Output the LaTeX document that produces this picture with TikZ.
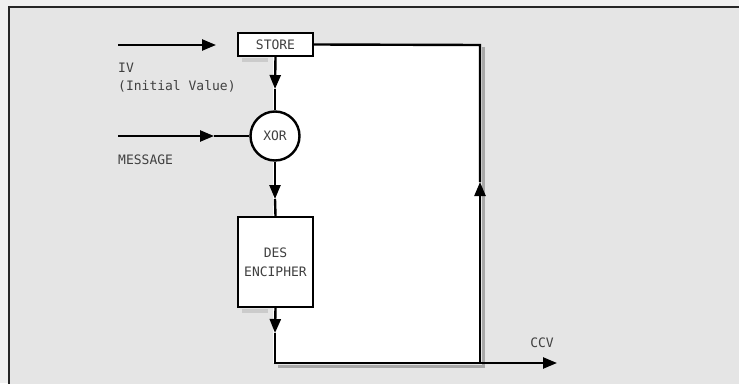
\documentclass[tikz,border=0pt]{standalone}
\usepackage{fontspec}
\setmonofont{DejaVu Sans Mono}
\usetikzlibrary{arrows.meta}
\definecolor{outerbg}{HTML}{F0F0F0}
\definecolor{innerbg}{HTML}{E5E5E5}
\definecolor{shadowc}{HTML}{A8A8A8}
\definecolor{txt}{HTML}{404040}
\begin{document}
\begin{tikzpicture}[x=1pt,y=-1pt,
  conn/.style={line width=2.4pt,black},
  tip/.style={-{Triangle[length=14pt,width=11pt]}},
  lbl/.style={font=\ttfamily\fontsize{13}{18}\selectfont,text=txt,inner sep=0pt},
  boxst/.style={draw=black,line width=2.4pt,fill=white,font=\ttfamily\fontsize{13}{19}\selectfont,text=txt,align=center,inner sep=0pt},
]
\useasboundingbox (0,0) rectangle (739,383);
\fill[outerbg] (0,0) rectangle (739,383);
\fill[innerbg] (9,7) rectangle (745,390);
\draw[line width=1.6pt,black!85] (9,395) -- (9,7) -- (745,7);
\fill[white] (273,45) rectangle (480,363);
% shadows of the loop
\draw[line width=3pt,shadowc] (483.5,47) -- (483.5,366.5) -- (278,366.5);
\fill[shadowc!60] (242,58) rectangle (268,62);
\fill[shadowc!60] (242,309) rectangle (268,313);
% nodes
\node[boxst,minimum width=75pt,minimum height=23pt] (store) at (275.5,44.5) {STORE};
\node[boxst,circle,minimum size=49pt] (xor) at (275,136) {XOR};
\node[boxst,minimum width=75pt,minimum height=90pt] (des) at (275.5,262) {DES\\ENCIPHER};
\node[lbl,anchor=west,align=left] (ivl) at (118,78) {IV\\(Initial Value)};
\node[lbl,anchor=west] (msgl) at (118,160) {MESSAGE};
\node[lbl] (ccvl) at (542,343) {CCV};
% coordinates
\coordinate (ivs) at (118,45);
\coordinate (ive) at (216,45);
\coordinate (msgs) at (118,136);
\coordinate (msgt) at (214,136);
\coordinate (t1) at (275,89);
\coordinate (t2) at (275,199);
\coordinate (t3) at (275,333);
\coordinate (bl) at (275,363);
\coordinate (br) at (480,363);
\coordinate (tr) at (480,45);
\coordinate (t4) at (480,182);
\coordinate (ccv) at (557,363);
% connectors
\draw[conn,tip] (ivs) -- (ive);
\draw[conn,tip] (msgs) -- (msgt);
\draw[conn] (msgt) -- (xor.west);
\draw[conn,tip] (store.south) -- (t1);
\draw[conn] (t1) -- (xor.north);
\draw[conn,tip] (xor.south) -- (t2);
\draw[conn] (t2) -- (des.north);
\draw[conn,tip] (des.south) -- (t3);
\draw[conn] (t3) -- (bl) -- (br);
\draw[conn,tip] (br) -- (ccv);
\draw[conn,tip] (br) -- (t4);
\draw[conn] (t4) -- (tr) -- (store.east);
\end{tikzpicture}
\end{document}
